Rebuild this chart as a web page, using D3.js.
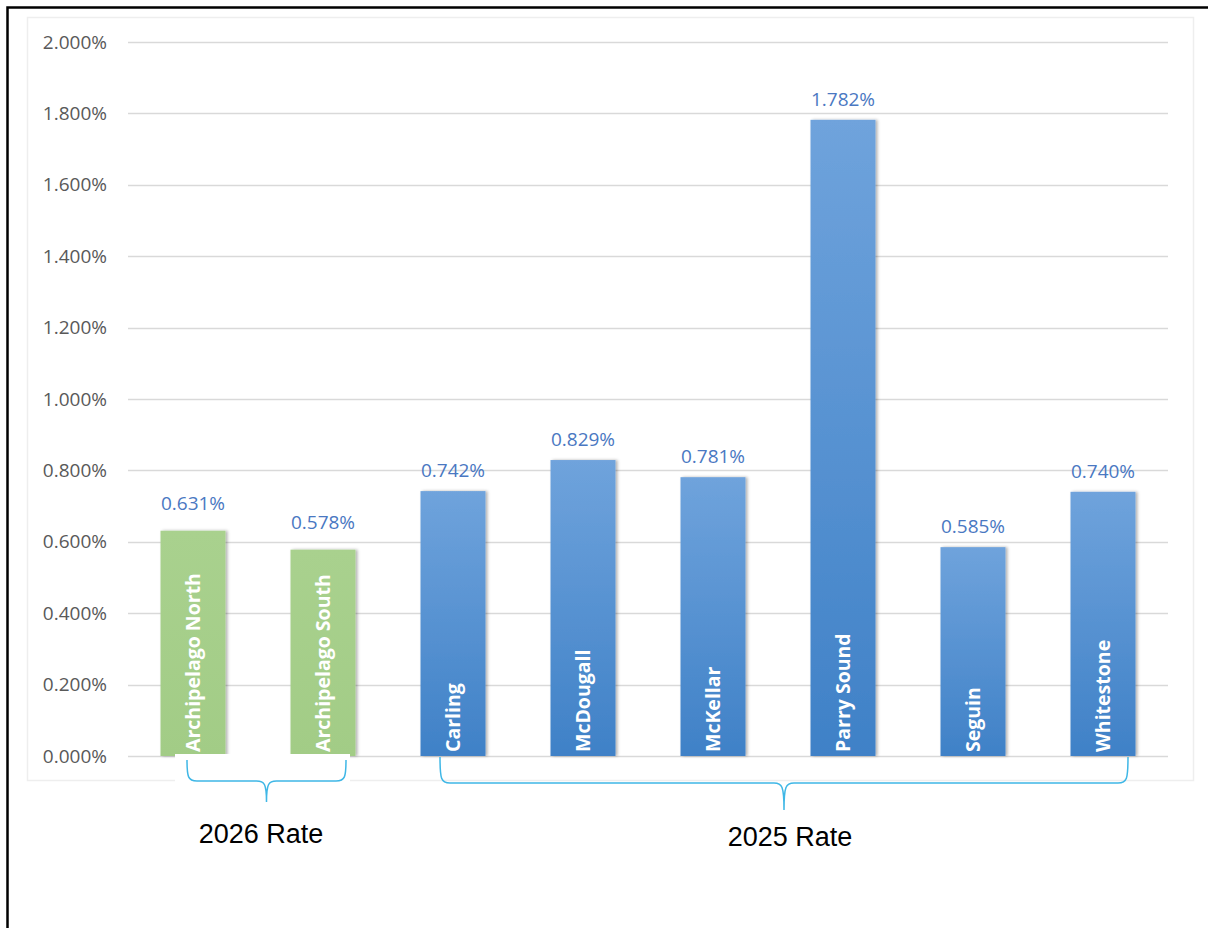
<!DOCTYPE html>
<html>
<head>
<meta charset="utf-8">
<script src="https://cdn.jsdelivr.net/npm/d3@7"></script>
<style>
  html, body { margin: 0; padding: 0; background: #fff; }
  svg { display: block; }
</style>
</head>
<body>
<script>
// Municipal rates by area (percent)
const categories = ["Archipelago North", "Archipelago South", "Carling", "McDougall", "McKellar", "Parry Sound", "Seguin", "Whitestone"];
const rates = [0.631, 0.578, 0.742, 0.829, 0.781, 1.782, 0.585, 0.740];
const rateYear = ["2026", "2026", "2025", "2025", "2025", "2025", "2025", "2025"];
const groupLabels = ["2026 Rate", "2025 Rate"];
const yTicks = [0, 0.2, 0.4, 0.6, 0.8, 1.0, 1.2, 1.4, 1.6, 1.8, 2.0];

const W = 1208, H = 928;
const svg = d3.select("body").append("svg").attr("width", W).attr("height", H);
const defs = svg.append("defs");

const blue = defs.append("linearGradient").attr("id", "gBlue").attr("x1", 0).attr("y1", 0).attr("x2", 0).attr("y2", 1);
blue.append("stop").attr("offset", "0%").attr("stop-color", "#6fa3dc");
blue.append("stop").attr("offset", "100%").attr("stop-color", "#3f81c7");
const green = defs.append("linearGradient").attr("id", "gGreen").attr("x1", 0).attr("y1", 0).attr("x2", 0).attr("y2", 1);
green.append("stop").attr("offset", "0%").attr("stop-color", "#a9d18e");
green.append("stop").attr("offset", "100%").attr("stop-color", "#a2cc86");
const shadow = defs.append("filter").attr("id", "barShadow").attr("x", "-20%").attr("y", "-5%").attr("width", "140%").attr("height", "110%");
shadow.append("feDropShadow").attr("dx", 2).attr("dy", 0).attr("stdDeviation", 1.6).attr("flood-color", "#000").attr("flood-opacity", 0.3);

// outer frame
svg.append("rect").attr("x", 7.5).attr("y", 7.5).attr("width", W + 20).attr("height", H + 20)
  .attr("fill", "none").attr("stroke", "#000").attr("stroke-width", 2.5);
// chart panel
svg.append("rect").attr("x", 27.5).attr("y", 17.5).attr("width", 1166).attr("height", 763)
  .attr("fill", "#fff").attr("stroke", "#eeeeee").attr("stroke-width", 1.5);

const x = d3.scaleBand().domain(categories).range([128, 1168]).paddingInner(0.5).paddingOuter(0.25);
const y = d3.scaleLinear().domain([0, 2.0]).range([756, 42]);

// gridlines
svg.append("g").selectAll("line").data(yTicks).join("line")
  .attr("x1", 128).attr("x2", 1168)
  .attr("y1", d => Math.round(y(d)) + 0.5).attr("y2", d => Math.round(y(d)) + 0.5)
  .attr("stroke", "#d9d9d9").attr("stroke-width", 1.5);

// y-axis tick labels
const yAxis = d3.axisLeft(y).tickValues(yTicks).tickSize(0).tickPadding(0).tickFormat(d => d.toFixed(3) + "%");
svg.append("g").attr("transform", "translate(107,0)").call(yAxis)
  .call(g => g.select(".domain").remove())
  .call(g => g.selectAll("text").attr("font-family", "'Open Sans', sans-serif").attr("font-size", 19).attr("fill", "#595959"));

const data = categories.map((c, i) => ({ name: c, value: rates[i], year: rateYear[i] }));

// bars
svg.append("g").selectAll("rect").data(data).join("rect")
  .attr("x", d => x(d.name)).attr("width", x.bandwidth())
  .attr("y", d => y(d.value)).attr("height", d => y(0) - y(d.value))
  .attr("fill", d => d.year === "2026" ? "url(#gGreen)" : "url(#gBlue)")
  .attr("filter", "url(#barShadow)");

// value labels
svg.append("g").selectAll("text").data(data).join("text")
  .attr("x", d => x(d.name) + x.bandwidth() / 2)
  .attr("y", d => y(d.value) - (d.year === "2026" ? 21 : 14))
  .attr("text-anchor", "middle")
  .attr("font-family", "'Open Sans', sans-serif").attr("font-size", 19)
  .attr("fill", "#4a78c2")
  .text(d => d.value.toFixed(3) + "%");

// category names inside bars
svg.append("g").selectAll("text").data(data).join("text")
  .attr("transform", d => `translate(${x(d.name) + x.bandwidth() / 2 + 7},${y(0) - 4}) rotate(-90)`)
  .attr("font-family", "'Open Sans', sans-serif").attr("font-weight", "bold").attr("font-size", 19.5)
  .attr("fill", "#fff")
  .text(d => d.name);

// group braces
function brace(x0, x1, yTop, yMid, tipY, tipX) {
  const r = 10;
  return `M${x0},${yTop} C${x0},${yMid - 4} ${x0 + 1},${yMid} ${x0 + r},${yMid}` +
    ` L${tipX - r},${yMid} C${tipX - 2},${yMid} ${tipX},${yMid + 3} ${tipX},${tipY}` +
    ` C${tipX},${yMid + 3} ${tipX + 2},${yMid} ${tipX + r},${yMid}` +
    ` L${x1 - r},${yMid} C${x1 - 1},${yMid} ${x1},${yMid - 4} ${x1},${yTop}`;
}
const bw = x.bandwidth();
const b2026 = { x0: x(categories[0]) + bw / 2 - 6, x1: x(categories[1]) + bw / 2 + 23 };
const b2025 = { x0: x(categories[2]) + bw / 2 - 13, x1: x(categories[7]) + bw / 2 + 25 };

svg.append("rect").attr("x", b2026.x0 - 12).attr("y", 754).attr("width", b2026.x1 - b2026.x0 + 16).attr("height", 30).attr("fill", "#fff");

svg.append("path").attr("d", brace(b2026.x0, b2026.x1, 760, 781, 802, (b2026.x0 + b2026.x1) / 2))
  .attr("fill", "none").attr("stroke", "#3fb7e6").attr("stroke-width", 1.5);
svg.append("path").attr("d", brace(b2025.x0, b2025.x1, 757, 783, 810, 784))
  .attr("fill", "none").attr("stroke", "#3fb7e6").attr("stroke-width", 1.5);

svg.append("text").attr("x", 261).attr("y", 843).attr("text-anchor", "middle")
  .attr("font-family", "'Liberation Sans', Arial, sans-serif").attr("font-size", 27).attr("fill", "#000")
  .text(groupLabels[0]);
svg.append("text").attr("x", 790).attr("y", 846).attr("text-anchor", "middle")
  .attr("font-family", "'Liberation Sans', Arial, sans-serif").attr("font-size", 27).attr("fill", "#000")
  .text(groupLabels[1]);
</script>
</body>
</html>
